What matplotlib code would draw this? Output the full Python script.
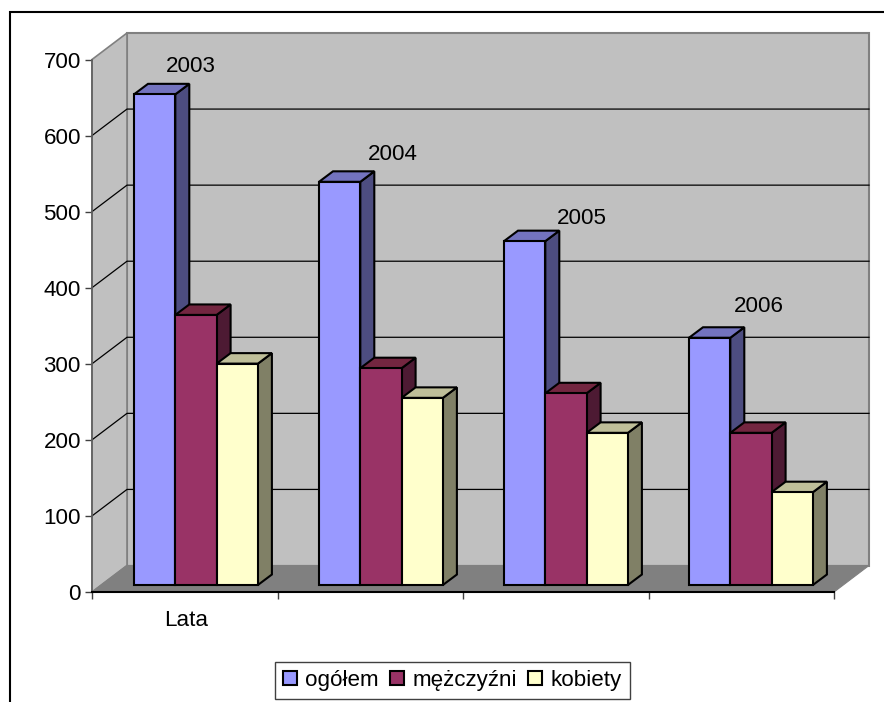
import matplotlib
matplotlib.use("Agg")
import matplotlib.pyplot as plt
from matplotlib.patches import Polygon, Rectangle
from matplotlib.lines import Line2D

years = ["2003", "2004", "2005", "2006"]
series_names = ["ogółem", "mężczyźni", "kobiety"]
ogolem = [645, 530, 452, 325]
mezczyzni = [355, 285, 252, 200]
kobiety = [291, 246, 200, 122]
y_ticks = [0, 100, 200, 300, 400, 500, 600, 700]
axis_title = "Lata"

front_cols = ["#9999FF", "#993366", "#FFFFCC"]
side_cols = ["#4D4D80", "#4D1A33", "#808066"]
top_cols = ["#7373BF", "#732640", "#BFBF99"]

W, H = 884, 702
L, R, B, T = 92, 834, 592, 59.5
PX = (R - L) / 4            # px per category
PY = (B - T) / 700          # px per value unit


def dx(px):
    return px / PX


def dy(px):
    return px / PY


fig = plt.figure(figsize=(W / 100, H / 100), dpi=100, facecolor="white")
plt.rcParams["font.family"] = ["Liberation Sans", "DejaVu Sans"]
FS = 16.1
ax = fig.add_axes([L / W, 1 - B / H, (R - L) / W, (B - T) / H])
ax.set_xlim(0, 4)
ax.set_ylim(0, 700)
ax.patch.set_visible(False)

# outer frame running off the picture on the right and at the bottom
fig.add_artist(Rectangle((10 / W, -0.1), 1.2, 1.1 - 12 / H, transform=fig.transFigure,
                         facecolor="none", edgecolor="black", lw=1.5))

wall_dx, wall_dy = dx(35), dy(26.5)
GRID = "#808080"
# back wall, side wall, floor
ax.add_patch(Polygon([(wall_dx, wall_dy), (4 + wall_dx, wall_dy),
                      (4 + wall_dx, 700 + wall_dy), (wall_dx, 700 + wall_dy)],
                     closed=True, fc="#C0C0C0", ec=GRID, lw=1.5, clip_on=False, zorder=1))
ax.add_patch(Polygon([(0, 0), (wall_dx, wall_dy), (wall_dx, 700 + wall_dy), (0, 700)],
                     closed=True, fc="#C0C0C0", ec=GRID, lw=1.2, clip_on=False, zorder=1.1))
ax.add_patch(Polygon([(0, 0), (4, 0), (4 + wall_dx, wall_dy), (wall_dx, wall_dy)],
                     closed=True, fc="#808080", ec="#808080", lw=0.8, clip_on=False, zorder=1.3))
# gridlines
for v in y_ticks[1:-1]:
    ax.add_line(Line2D([0, wall_dx, 4 + wall_dx], [v, v + wall_dy, v + wall_dy],
                       color="black", lw=0.9, clip_on=False, zorder=1.2))

# bars
base = dy(7)
start = dx(42)
step = 185 / PX
bar_w = dx(41.3)
bar_dx, bar_dy = dx(14), dy(10.5)
EDGE = dict(edgecolor="black", linewidth=1.5)
for s, vals in enumerate([ogolem, mezczyzni, kobiety]):
    xs = [i * step + start + s * bar_w for i in range(len(vals))]
    for x, v in zip(xs, vals):
        top = base + v
        ax.add_patch(Polygon([(x + bar_w, base), (x + bar_w + bar_dx, base + bar_dy),
                              (x + bar_w + bar_dx, top + bar_dy), (x + bar_w, top)],
                             closed=True, fc=side_cols[s], clip_on=False, zorder=3 + s,
                             joinstyle="miter", **EDGE))
        ax.add_patch(Polygon([(x, top), (x + bar_dx, top + bar_dy),
                              (x + bar_w + bar_dx, top + bar_dy), (x + bar_w, top)],
                             closed=True, fc=top_cols[s], clip_on=False, zorder=3 + s,
                             joinstyle="miter", **EDGE))
    ax.bar(xs, vals, width=bar_w, bottom=base, align="edge", color=front_cols[s],
           clip_on=False, zorder=3.5 + s, **EDGE)

# axes
for side in ("top", "right"):
    ax.spines[side].set_visible(False)
ax.spines["left"].set_color("#606060")
ax.spines["left"].set_linewidth(1.2)
ax.spines["bottom"].set_color("black")
ax.spines["bottom"].set_linewidth(1.5)
ax.set_yticks(y_ticks)
ax.set_xticks(range(5))
ax.set_xticklabels([])
ax.tick_params(axis="y", length=5, width=1, color="#404040", labelsize=FS, pad=3)
ax.tick_params(axis="x", length=5, width=1, color="#404040")

# year labels
label_pos = [(dx(191 - L), dy(B - 66)), (dx(392.5 - L), dy(B - 154)),
             (dx(581.5 - L), dy(B - 218)), (dx(758.5 - L), dy(B - 306))]
for (x, y), t in zip(label_pos, years):
    ax.text(x, y, t, ha="center", va="center", fontsize=FS, zorder=20)
ax.text(dx(186 - L), dy(B - 620), axis_title, ha="center", va="center", fontsize=FS, zorder=20)

# legend
handles = [Rectangle((0, 0), 1, 1, fc=c, ec="black", lw=1.5) for c in front_cols]
leg = fig.legend(handles, series_names, ncol=3, loc="center",
                 bbox_to_anchor=(452.5 / W, 1 - 680.5 / H), fontsize=FS, frameon=True,
                 fancybox=False, edgecolor="#404040", framealpha=1,
                 handlelength=0.6, handleheight=0.6, handletextpad=0.4,
                 columnspacing=0.5, borderpad=0.38, borderaxespad=0)
leg.get_frame().set_linewidth(1.0)

fig.savefig("out.png", dpi=100, facecolor="white")
